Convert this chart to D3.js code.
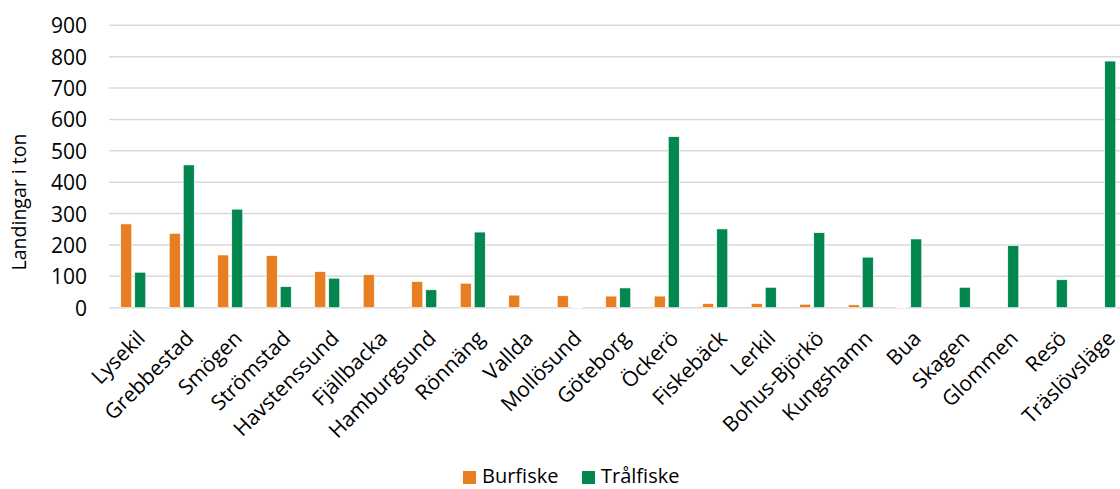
<!DOCTYPE html>
<html><head><meta charset="utf-8">
<script src="https://cdn.jsdelivr.net/npm/d3@7"></script>
<style>body{margin:0;background:#fff}svg{display:block;font-family:"Open Sans",sans-serif}</style>
</head><body><svg id="c" width="1120" height="489"></svg>
<script>
const categories = ["Lysekil","Grebbestad","Smögen","Strömstad","Havstenssund","Fjällbacka","Hamburgsund","Rönnäng","Vallda","Mollösund","Göteborg","Öckerö","Fiskebäck","Lerkil","Bohus-Björkö","Kungshamn","Bua","Skagen","Glommen","Resö","Träslövsläge"];
const burfiske = [267,237,168,166,115,105,83,78,40,38,37,37,13,13,11,9,2,0,0,0,0];
const tralfiske = [113,455,314,67,94,0,57,241,0,1,63,545,251,65,239,161,219,65,198,89,786];
const seriesNames = ["Burfiske","Trålfiske"];
const colors = ["#E87E22","#02874F"];
const yTicks = [0,100,200,300,400,500,600,700,800,900];

(function(){
const svg = d3.select("#c");
const left = 109, plotRight = 1127.5, plotTop = 25.3, plotBottom = 307.7;
const x = d3.scaleBand().domain(categories).range([left, plotRight]).padding(0);
const y = d3.scaleLinear().domain([0,900]).range([plotBottom, plotTop]);

svg.append("g").selectAll("line").data(yTicks).join("line")
  .attr("x1", left).attr("x2", 1120)
  .attr("y1", d => y(d)).attr("y2", d => y(d))
  .attr("stroke", "#d9d9d9").attr("stroke-width", 1.6);

const yAxis = d3.axisLeft(y).tickValues(yTicks).tickSize(0).tickPadding(0);
const ya = svg.append("g").attr("transform", `translate(87,0)`).call(yAxis);
ya.select(".domain").remove();
ya.selectAll("text").attr("font-size", 21).attr("fill", "#000").attr("font-family", "Open Sans").attr("dy", "0.36em");

const data = categories.map((c,i) => ({c, vals:[burfiske[i], tralfiske[i]]}));
const barW = 11, gap = 3;
const g = svg.append("g");
data.forEach(d => {
  const cx = x(d.c) + x.bandwidth()/2;
  d.vals.forEach((v,j) => {
    if (v <= 0) return;
    const bx = j === 0 ? cx - gap/2 - barW : cx + gap/2;
    g.append("rect")
      .attr("x", bx).attr("width", barW)
      .attr("y", y(v)).attr("height", y(0) - y(v))
      .attr("fill", colors[j]).attr("stroke", "#fff").attr("stroke-width", 0.6);
  });
});

svg.append("g").selectAll("text").data(categories).join("text")
  .attr("transform", d => `translate(${x(d) + x.bandwidth()/2 + 13},${plotBottom + 32}) rotate(-45)`)
  .attr("text-anchor", "end")
  .attr("font-size", 21).attr("fill", "#000")
  .text(d => d);

svg.append("text")
  .attr("transform", "translate(26,202) rotate(-90)")
  .attr("text-anchor", "middle").attr("font-size", 19.5).attr("fill", "#000")
  .text("Landingar i ton");

const legX = [463, 582];
seriesNames.forEach((s,i) => {
  svg.append("rect").attr("x", legX[i]).attr("y", 471).attr("width", 13).attr("height", 13).attr("fill", colors[i]);
  svg.append("text").attr("x", legX[i] + 19).attr("y", 483).attr("font-size", 20).attr("fill", "#000").text(s);
});
})();
</script></body></html>
